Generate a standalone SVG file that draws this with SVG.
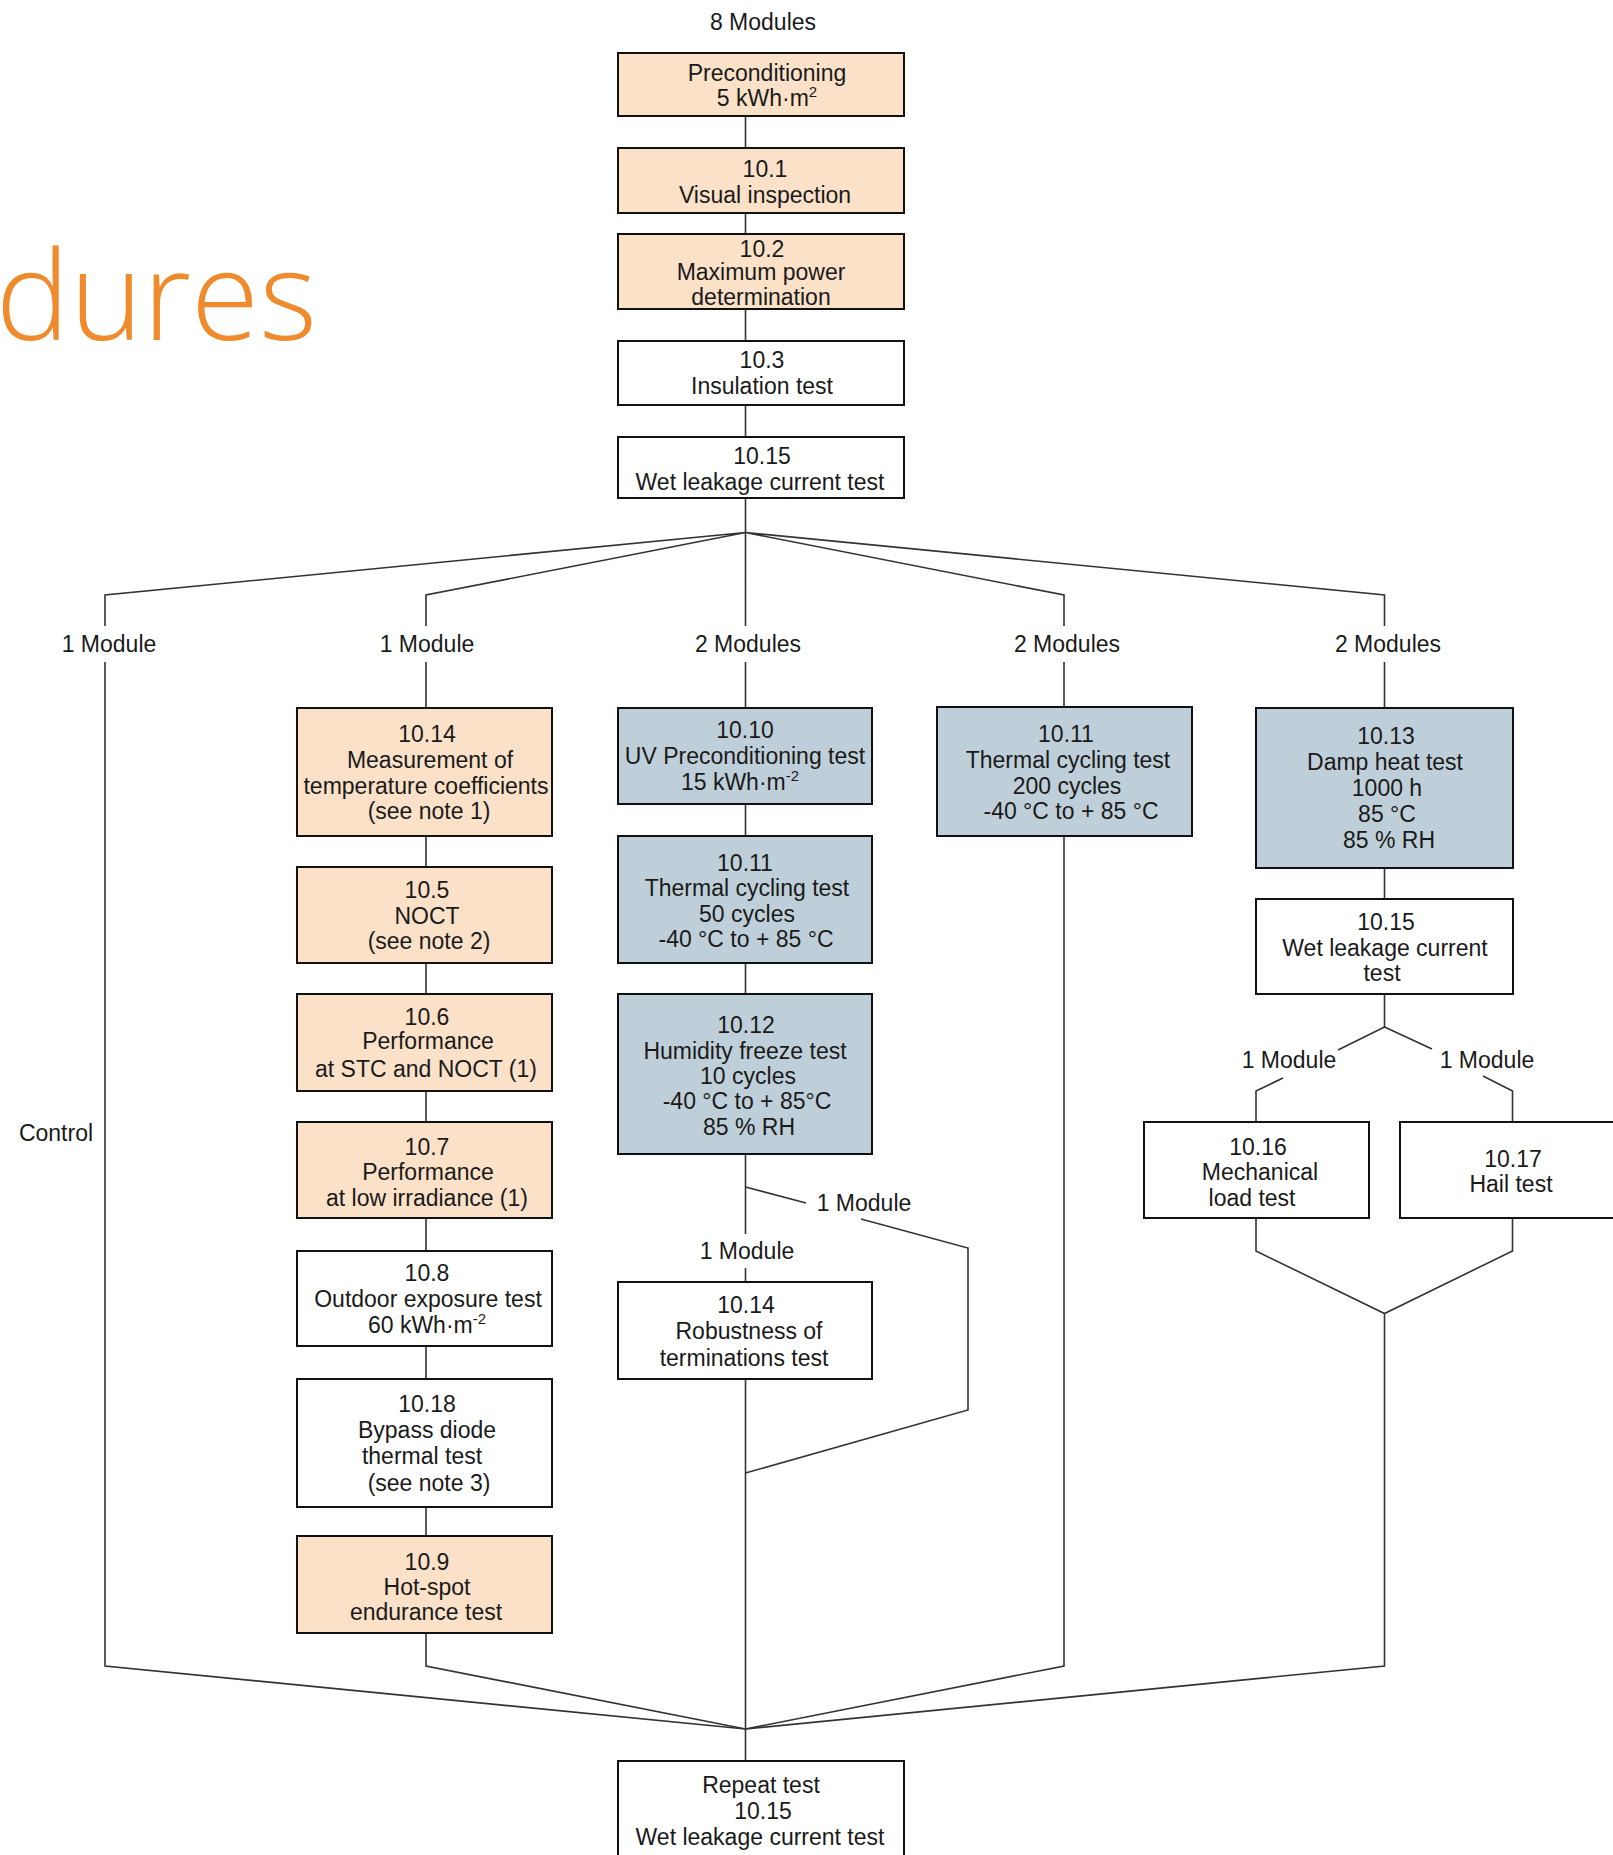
<svg xmlns="http://www.w3.org/2000/svg" width="1613" height="1855" viewBox="0 0 1613 1855">
<style>
.box{stroke:#111;stroke-width:2}
.peach{fill:#FBE1C8}
.blue{fill:#BFCFD9}
.white{fill:#fff}
.t{font-family:"Liberation Sans",Arial,sans-serif;font-size:23px;fill:#1a1a1a;text-anchor:middle}
.sup{font-size:15px}
.c{fill:none;stroke:#333;stroke-width:1.6}
.title{font-family:"Open Sans","Lato","Noto Sans",sans-serif;font-weight:300;font-size:124px;fill:#EF8B2C;text-anchor:end}
</style>
<rect width="1613" height="1855" fill="#fff"/>
<text class="title" x="317" y="340">dures</text>

<g id="connectors">
<path class="c" d="M745.5 116V148M745.5 213V234M745.5 309V341M745.5 405V437M745.5 498V532.5"/>
<path class="c" d="M745.5 532.5L105 595V626M745.5 532.5L426 595V626M745.5 532.5V626M745.5 532.5L1064 595V626M745.5 532.5L1384.5 595V626"/>
<path class="c" d="M105 662V1666L745.5 1729"/>
<path class="c" d="M426 662V708M426 836V867M426 963V994M426 1091V1122M426 1218V1251M426 1346V1379M426 1507V1536M426 1633V1666L745.5 1729"/>
<path class="c" d="M745.5 662V708M745.5 804V836M745.5 963V994M745.5 1154V1234M745.5 1268V1282M745.5 1379V1761"/>
<path class="c" d="M745.5 1187L806 1203M861 1219L968 1248V1410L745.5 1473"/>
<path class="c" d="M1064 662V707M1064 836V1666L745.5 1729"/>
<path class="c" d="M1384.5 662V708M1384.5 868V899M1384.5 994V1027L1338 1050M1384.5 1027L1432 1049M1283 1078L1256 1091V1122M1483 1076L1512.5 1091V1122"/>
<path class="c" d="M1256 1218V1251L1384.5 1313.5L1512.5 1251V1218M1384.5 1313.5V1666L745.5 1729"/>
</g>

<g id="labels">
<text class="t" x="763" y="30">8 Modules</text>
<text class="t" x="109" y="652">1 Module</text>
<text class="t" x="427" y="652">1 Module</text>
<text class="t" x="748" y="652">2 Modules</text>
<text class="t" x="1067" y="652">2 Modules</text>
<text class="t" x="1388" y="652">2 Modules</text>
<text class="t" x="56" y="1141">Control</text>
<text class="t" x="864" y="1211">1 Module</text>
<text class="t" x="747" y="1259">1 Module</text>
<text class="t" x="1289" y="1068">1 Module</text>
<text class="t" x="1487" y="1068">1 Module</text>
</g>

<g id="preconditioning">
<rect class="box peach" x="618" y="53" width="286" height="63"/>
<text class="t" x="767" y="81">Preconditioning</text>
<text class="t" x="767" y="106">5 kWh·m<tspan class="sup" dy="-9">2</tspan></text>
</g>
<g id="n10_1">
<rect class="box peach" x="618" y="148" width="286" height="65"/>
<text class="t" x="765" y="177">10.1</text>
<text class="t" x="765" y="203">Visual inspection</text>
</g>
<g id="n10_2">
<rect class="box peach" x="618" y="234" width="286" height="75"/>
<text class="t" x="762" y="257">10.2</text>
<text class="t" x="761" y="280">Maximum power</text>
<text class="t" x="761" y="305">determination</text>
</g>
<g id="n10_3">
<rect class="box white" x="618" y="341" width="286" height="64"/>
<text class="t" x="762" y="368">10.3</text>
<text class="t" x="762" y="394">Insulation test</text>
</g>
<g id="n10_15">
<rect class="box white" x="618" y="437" width="286" height="61"/>
<text class="t" x="762" y="464">10.15</text>
<text class="t" x="760" y="490">Wet leakage current test</text>
</g>

<g id="c2_10_14">
<rect class="box peach" x="297" y="708" width="255" height="128"/>
<text class="t" x="427" y="742">10.14</text>
<text class="t" x="430" y="768">Measurement of</text>
<text class="t" x="426" y="794">temperature coefficients</text>
<text class="t" x="429" y="819">(see note 1)</text>
</g>
<g id="c2_10_5">
<rect class="box peach" x="297" y="867" width="255" height="96"/>
<text class="t" x="427" y="898">10.5</text>
<text class="t" x="427" y="924">NOCT</text>
<text class="t" x="429" y="949">(see note 2)</text>
</g>
<g id="c2_10_6">
<rect class="box peach" x="297" y="994" width="255" height="97"/>
<text class="t" x="427" y="1025">10.6</text>
<text class="t" x="428" y="1049">Performance</text>
<text class="t" x="426" y="1077">at STC and NOCT (1)</text>
</g>
<g id="c2_10_7">
<rect class="box peach" x="297" y="1122" width="255" height="96"/>
<text class="t" x="427" y="1155">10.7</text>
<text class="t" x="428" y="1180">Performance</text>
<text class="t" x="427" y="1206">at low irradiance (1)</text>
</g>
<g id="c2_10_8">
<rect class="box white" x="297" y="1251" width="255" height="95"/>
<text class="t" x="427" y="1281">10.8</text>
<text class="t" x="428" y="1307">Outdoor exposure test</text>
<text class="t" x="427" y="1333">60 kWh·m<tspan class="sup" dy="-9">-2</tspan></text>
</g>
<g id="c2_10_18">
<rect class="box white" x="297" y="1379" width="255" height="128"/>
<text class="t" x="427" y="1412">10.18</text>
<text class="t" x="427" y="1438">Bypass diode</text>
<text class="t" x="422" y="1464">thermal test</text>
<text class="t" x="429" y="1491">(see note 3)</text>
</g>
<g id="c2_10_9">
<rect class="box peach" x="297" y="1536" width="255" height="97"/>
<text class="t" x="427" y="1570">10.9</text>
<text class="t" x="427" y="1595">Hot-spot</text>
<text class="t" x="426" y="1620">endurance test</text>
</g>

<g id="c3_10_10">
<rect class="box blue" x="618" y="708" width="254" height="96"/>
<text class="t" x="745" y="738">10.10</text>
<text class="t" x="745" y="764">UV Preconditioning test</text>
<text class="t" x="740" y="790">15 kWh·m<tspan class="sup" dy="-9">-2</tspan></text>
</g>
<g id="c3_10_11">
<rect class="box blue" x="618" y="836" width="254" height="127"/>
<text class="t" x="745" y="871">10.11</text>
<text class="t" x="747" y="896">Thermal cycling test</text>
<text class="t" x="747" y="922">50 cycles</text>
<text class="t" x="746" y="947">-40 °C to + 85 °C</text>
</g>
<g id="c3_10_12">
<rect class="box blue" x="618" y="994" width="254" height="160"/>
<text class="t" x="746" y="1033">10.12</text>
<text class="t" x="745" y="1059">Humidity freeze test</text>
<text class="t" x="748" y="1084">10 cycles</text>
<text class="t" x="747" y="1109">-40 °C to + 85°C</text>
<text class="t" x="749" y="1135">85 % RH</text>
</g>
<g id="c3_10_14">
<rect class="box white" x="618" y="1282" width="254" height="97"/>
<text class="t" x="746" y="1313">10.14</text>
<text class="t" x="749" y="1339">Robustness of</text>
<text class="t" x="744" y="1366">terminations test</text>
</g>

<g id="c4_10_11">
<rect class="box blue" x="937" y="707" width="255" height="129"/>
<text class="t" x="1066" y="742">10.11</text>
<text class="t" x="1068" y="768">Thermal cycling test</text>
<text class="t" x="1067" y="794">200 cycles</text>
<text class="t" x="1071" y="819">-40 °C to + 85 °C</text>
</g>

<g id="c5_10_13">
<rect class="box blue" x="1256" y="708" width="257" height="160"/>
<text class="t" x="1386" y="744">10.13</text>
<text class="t" x="1385" y="770">Damp heat test</text>
<text class="t" x="1387" y="796">1000 h</text>
<text class="t" x="1387" y="822">85 °C</text>
<text class="t" x="1389" y="848">85 % RH</text>
</g>
<g id="c5_10_15">
<rect class="box white" x="1256" y="899" width="257" height="95"/>
<text class="t" x="1386" y="930">10.15</text>
<text class="t" x="1385" y="956">Wet leakage current</text>
<text class="t" x="1382" y="981">test</text>
</g>
<g id="c5_10_16">
<rect class="box white" x="1144" y="1122" width="225" height="96"/>
<text class="t" x="1258" y="1155">10.16</text>
<text class="t" x="1260" y="1180">Mechanical</text>
<text class="t" x="1252" y="1206">load test</text>
</g>
<g id="c5_10_17">
<rect class="box white" x="1400" y="1122" width="230" height="96"/>
<text class="t" x="1513" y="1167">10.17</text>
<text class="t" x="1511" y="1192">Hail test</text>
</g>

<g id="repeat">
<rect class="box white" x="618" y="1761" width="286" height="110"/>
<text class="t" x="761" y="1793">Repeat test</text>
<text class="t" x="763" y="1819">10.15</text>
<text class="t" x="760" y="1845">Wet leakage current test</text>
</g>
</svg>
